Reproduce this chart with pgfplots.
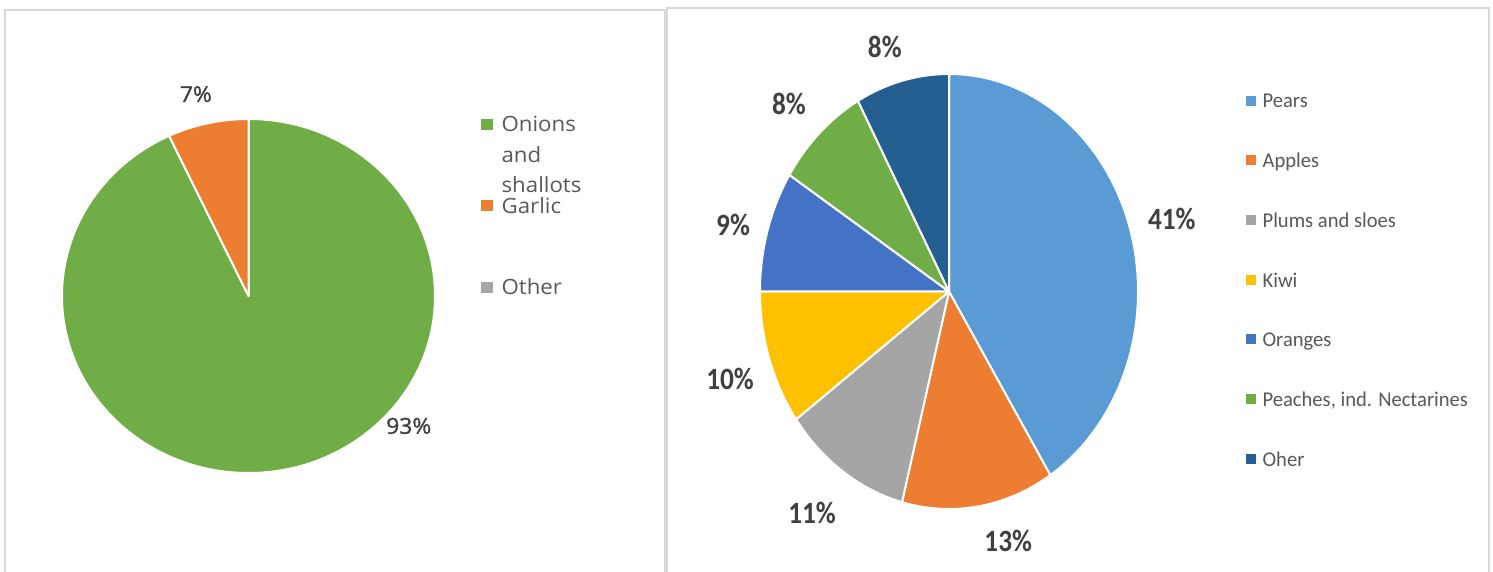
\documentclass[border=0pt]{standalone}
\usepackage{pgfplots}
\usepackage{pgfplotstable}
\pgfplotsset{compat=1.18}
\usepackage{fontspec}
\setmainfont{Carlito}
\newfontfamily\leftfont[FakeStretch=1.06]{Open Sans}
\newfontfamily\leftlabelfont[FakeStretch=1.04, FakeBold=1.2]{Open Sans}
\newfontfamily\rightfont[FakeStretch=0.98]{Carlito}
\newfontfamily\rightbold[FakeStretch=0.88]{Carlito Bold}

\definecolor{panelgray}{HTML}{D9D9D9}
\definecolor{lblgray}{HTML}{404040}
\definecolor{leggray}{HTML}{595959}
\definecolor{onion}{HTML}{70AD47}
\definecolor{garlic}{HTML}{ED7D31}
\definecolor{othergray}{HTML}{A5A5A5}
\definecolor{pears}{HTML}{5B9BD5}
\definecolor{apples}{HTML}{ED7D31}
\definecolor{plums}{HTML}{A5A5A5}
\definecolor{kiwi}{HTML}{FFC000}
\definecolor{oranges}{HTML}{4472C4}
\definecolor{peaches}{HTML}{70AD47}
\definecolor{oher}{HTML}{255E91}

% share in %, slice colour, label angle and label radius (in pie radii)
\pgfplotstableread{
name    value color     lang   lrad
Onions  93    onion     -40.5  1.13
Garlic  7     garlic    103.9  1.175
Other   0     othergray 90     1.2
}\veg

\pgfplotstableread{
name    value color   lang    lrad
Pears   41    pears   15.9    1.226
Apples  13    apples  -74.7   1.187
Plums   11    plums   -125.5  1.248
Kiwi    10    kiwi    -160.9  1.226
Oranges 9     oranges 165     1.183
Peaches 8     peaches 134.4   1.21
Oher    8     oher    106.8   1.176
}\fruit

% slices run clockwise from 12 o'clock, as Excel draws them
\newcommand\drawpie[4]{%
  \pgfplotstablegetrowsof{#1}%
  \pgfmathtruncatemacro\lastrow{\pgfplotsretval-1}%
  \gdef\startang{90}%
  \foreach \i in {0,...,\lastrow}{%
    \pgfplotstablegetelem{\i}{value}\of{#1}\let\val\pgfplotsretval
    \pgfplotstablegetelem{\i}{color}\of{#1}\let\col\pgfplotsretval
    \pgfplotstablegetelem{\i}{lang}\of{#1}\let\lang\pgfplotsretval
    \pgfplotstablegetelem{\i}{lrad}\of{#1}\let\lrad\pgfplotsretval
    \pgfmathsetmacro\endang{\startang-3.6*\val}%
    \ifdim\val pt>0pt
      \pgfmathsetmacro\sx{cos(\startang)}%
      \pgfmathsetmacro\sy{sin(\startang)}%
      \pgfmathsetmacro\lx{\lrad*cos(\lang)}%
      \pgfmathsetmacro\ly{\lrad*sin(\lang)}%
      \edef\doslice{%
        \noexpand\fill[\col, draw=white, line width=2bp, line join=round]
          (axis cs:0,0) -- (axis cs:\sx,\sy)
          arc[start angle=\startang, end angle=\endang, x radius=#2bp, y radius=#3bp] -- cycle;
        \noexpand\node[#4] at (axis cs:\lx,\ly) {\val\noexpand\%};}%
      \doslice
    \fi
    \xdef\startang{\endang}%
  }%
}

\begin{document}
\begin{tikzpicture}[
  leftlbl/.style={font=\leftlabelfont\fontsize{22bp}{22bp}\selectfont, text=lblgray, inner sep=0pt},
  rightlbl/.style={font=\rightbold\fontsize{31bp}{31bp}\selectfont, text=lblgray, inner sep=0pt}]
\path[use as bounding box, clip] (0bp,0bp) rectangle (1493bp,572bp);
\fill[white] (0bp,0bp) rectangle (1493bp,572bp);
\draw[panelgray, line width=2bp] (5bp,-10bp) -- (5bp,562bp) -- (665bp,562bp) -- (665bp,-10bp);
\draw[panelgray, line width=2bp] (667bp,-10bp) -- (667bp,564bp) -- (1489bp,564bp) -- (1489bp,-10bp);

\begin{axis}[
    at={(248.5bp,276bp)}, anchor=center,
    width=373bp, height=354bp, scale only axis,
    xmin=-1, xmax=1, ymin=-1, ymax=1,
    hide axis, clip=false,
    legend cell align=left,
    legend style={at={(1.1233,1.0076)}, anchor=north west,
      draw=none, fill=none, inner sep=0pt,
      row sep=65.9bp, column sep=9bp,
      font=\leftfont\fontsize{21bp}{30.5bp}\selectfont,
      nodes={inner sep=0pt, text height=15.4bp, text depth=0bp, text=leggray}},
  ]
\drawpie{\veg}{186.5}{177}{leftlbl}
\addlegendimage{legend image code/.code={\fill[onion] (0bp,-5bp) rectangle (11bp,5bp);}}
\addlegendentry{\smash{\begin{tabular}[t]{@{}l@{}}Onions\\and\\shallots\end{tabular}}}
\addlegendimage{legend image code/.code={\fill[garlic] (0bp,-5bp) rectangle (11bp,5bp);}}
\addlegendentry{Garlic}
\addlegendimage{legend image code/.code={\fill[othergray] (0bp,-5bp) rectangle (11bp,5bp);}}
\addlegendentry{Other}
\end{axis}

\begin{axis}[
    at={(949bp,280.5bp)}, anchor=center,
    width=378bp, height=435bp, scale only axis,
    xmin=-1, xmax=1, ymin=-1, ymax=1,
    hide axis, clip=false,
    legend cell align=left,
    legend style={at={(1.2844,0.958)}, anchor=north west,
      draw=none, fill=none, inner sep=0pt,
      row sep=44.2bp, column sep=7.5bp,
      font=\rightfont\fontsize{21bp}{21bp}\selectfont,
      nodes={inner sep=0pt, text height=15.5bp, text depth=0bp, text=leggray}},
  ]
\drawpie{\fruit}{189}{217.5}{rightlbl}
\addlegendimage{legend image code/.code={\fill[pears] (0bp,-4.5bp) rectangle (9bp,4.5bp);}}
\addlegendentry{Pears}
\addlegendimage{legend image code/.code={\fill[apples] (0bp,-4.5bp) rectangle (9bp,4.5bp);}}
\addlegendentry{Apples}
\addlegendimage{legend image code/.code={\fill[plums] (0bp,-4.5bp) rectangle (9bp,4.5bp);}}
\addlegendentry{Plums and sloes}
\addlegendimage{legend image code/.code={\fill[kiwi] (0bp,-4.5bp) rectangle (9bp,4.5bp);}}
\addlegendentry{Kiwi}
\addlegendimage{legend image code/.code={\fill[oranges] (0bp,-4.5bp) rectangle (9bp,4.5bp);}}
\addlegendentry{Oranges}
\addlegendimage{legend image code/.code={\fill[peaches] (0bp,-4.5bp) rectangle (9bp,4.5bp);}}
\addlegendentry{Peaches, ind. Nectarines}
\addlegendimage{legend image code/.code={\fill[oher] (0bp,-4.5bp) rectangle (9bp,4.5bp);}}
\addlegendentry{Oher}
\end{axis}
\end{tikzpicture}
\end{document}
